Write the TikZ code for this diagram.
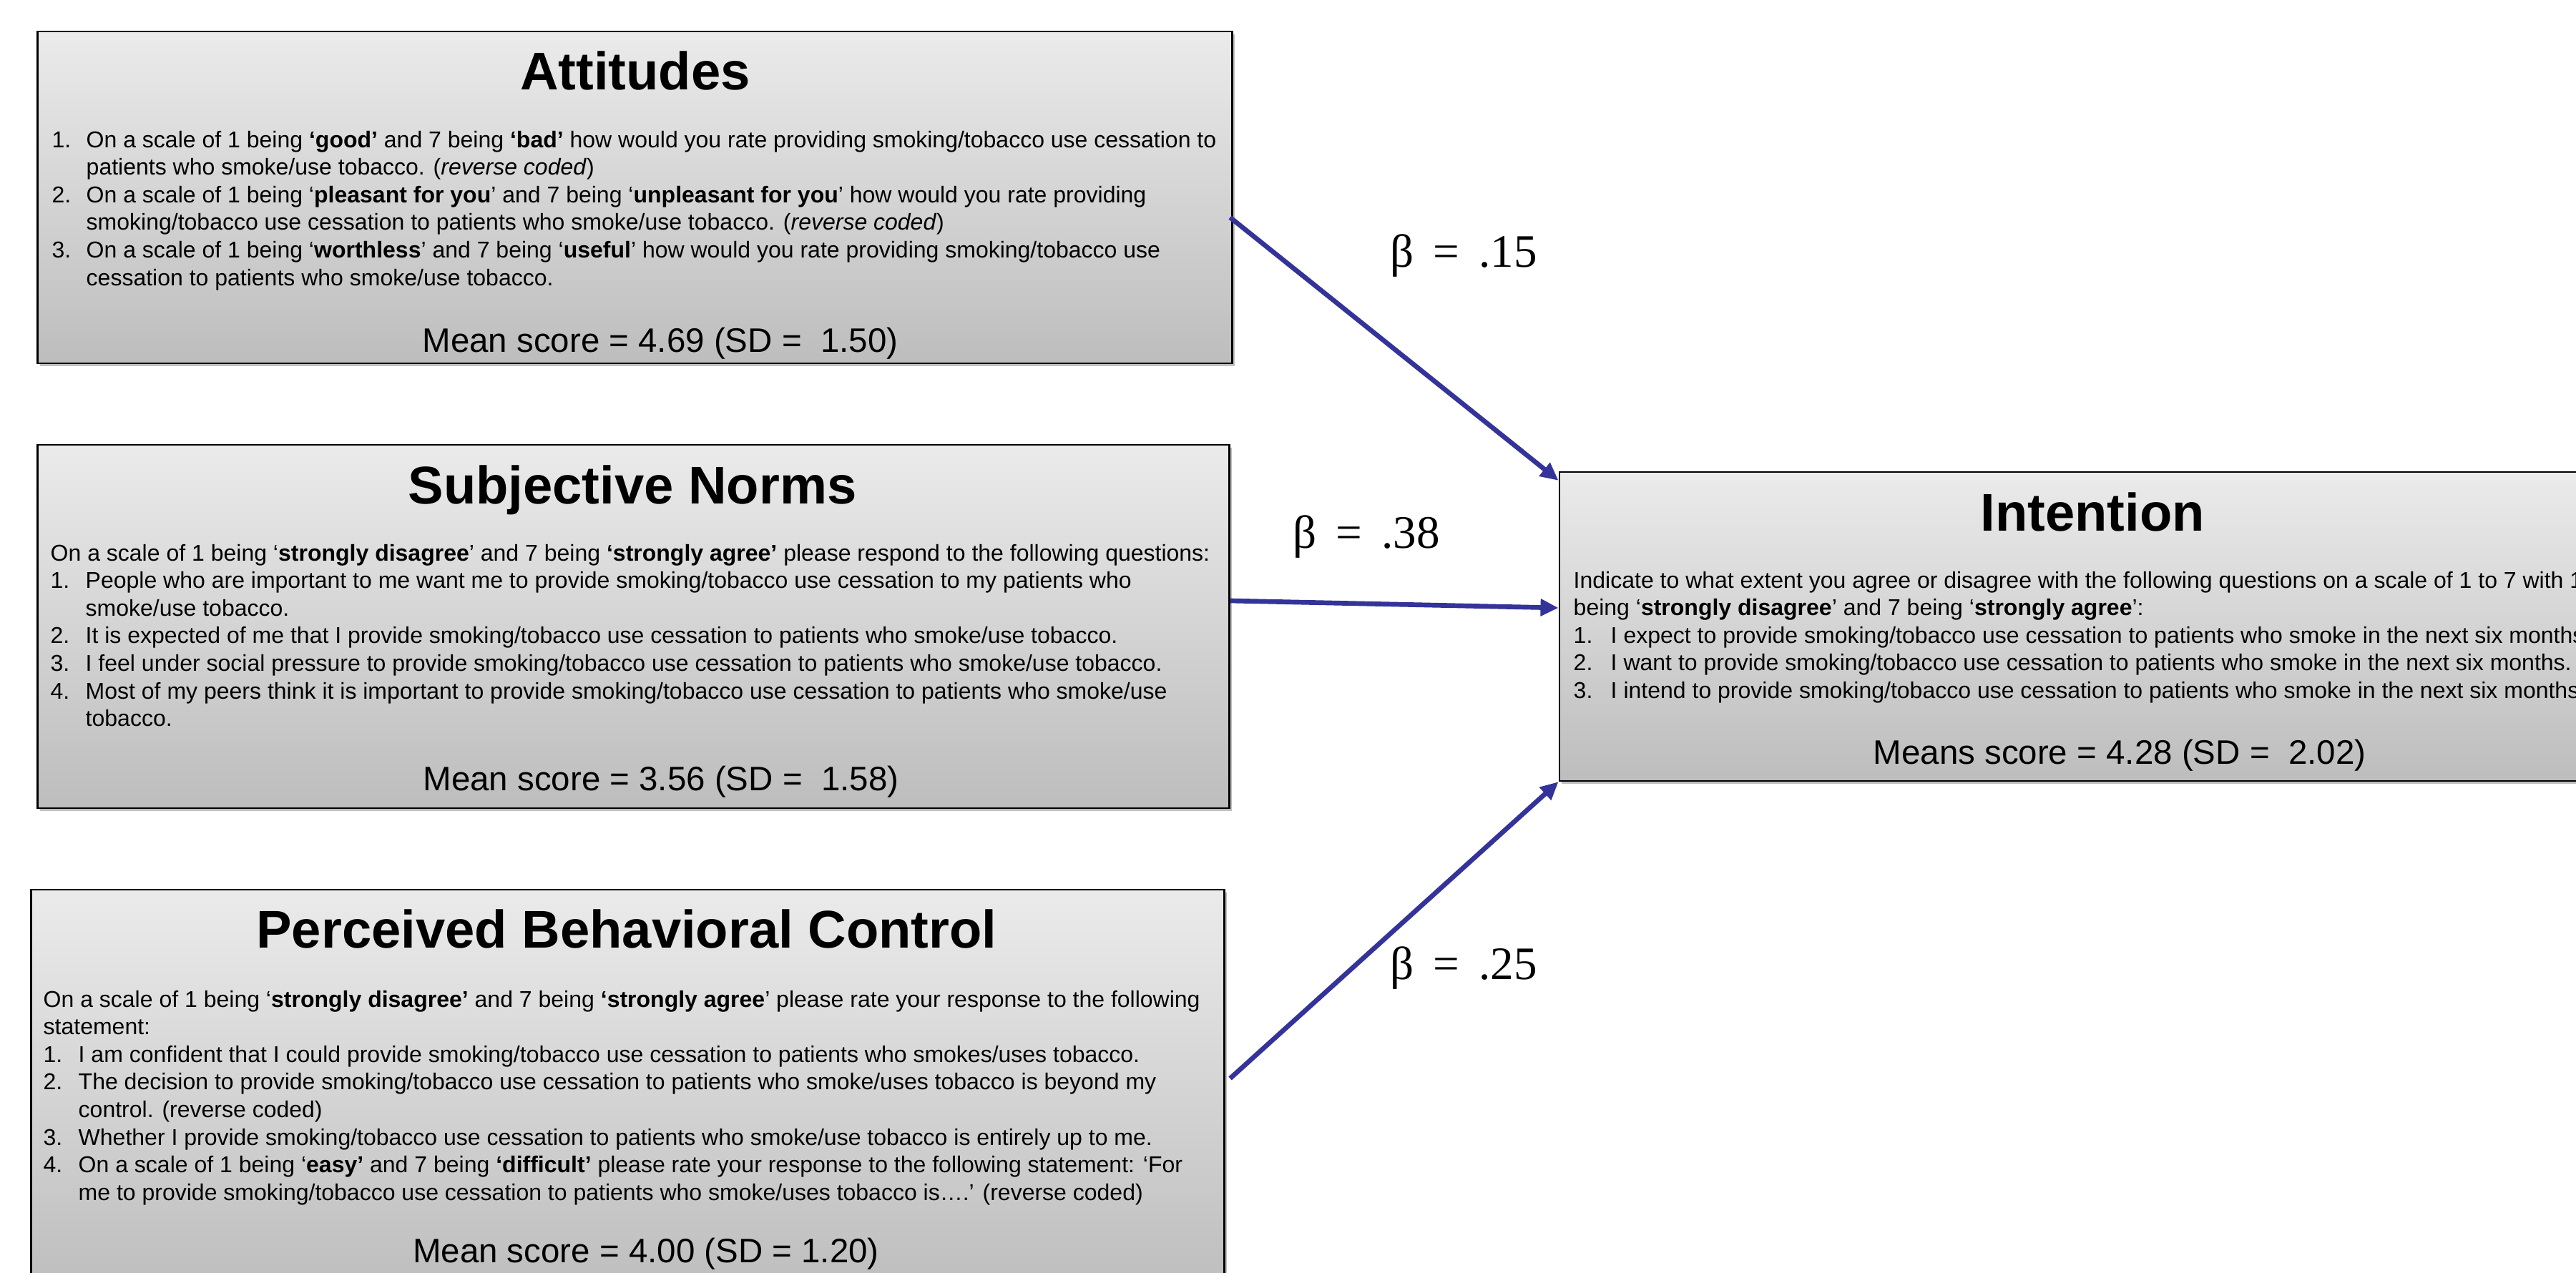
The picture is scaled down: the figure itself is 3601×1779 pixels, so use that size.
\documentclass[tikz,border=0pt]{standalone}
\usepackage{fontspec}
\setmainfont{Liberation Sans}
\newfontfamily\betafont{Liberation Serif}
\usetikzlibrary{arrows.meta,shadows,calc}
\definecolor{boxtop}{RGB}{235,235,235}
\definecolor{boxbot}{RGB}{189,189,189}
\definecolor{arrowblue}{RGB}{51,51,153}
\newlength\lblw
\newcommand\itm[2]{\makebox[\lblw][l]{#1}#2}
\newcommand\cnt{\hspace*{\lblw}}
\newcommand\bodyfont{\fontsize{9.1}{10.98}\selectfont}
\newcommand\bsp{\hspace{0.42em}}
\begin{document}
\begin{tikzpicture}[x=0.01cm,y=-0.01cm,
  box/.style={draw=black,line width=0.6pt,top color=boxtop,bottom color=boxbot,
    inner sep=0pt,drop shadow={shadow xshift=0.03cm,shadow yshift=-0.04cm,opacity=0.25,fill=black}},
  ttl/.style={anchor=base,inner sep=0pt,font=\fontsize{21.1}{25}\selectfont\bfseries},
  meanlbl/.style={anchor=base,inner sep=0pt,font=\fontsize{13.5}{16}\selectfont},
  bodytxt/.style={anchor=base west,inner sep=0pt,font=\bodyfont},
  beta/.style={anchor=base,inner sep=0pt,font=\betafont\fontsize{18.5}{20}\selectfont},
  arr/.style={draw=arrowblue,line width=1.9pt,-{Triangle[length=0.25cm,width=0.23cm]}}]
\useasboundingbox (0,0) rectangle (3601,1779);
\fill[white] (0,0) rectangle (3601,1779);
\clip (0,0) rectangle (3601,1779);

% boxes
\node[box,minimum width=16.69cm,minimum height=4.64cm] (att) at (887.5,276) {};
\node[box,minimum width=16.65cm,minimum height=5.08cm] (sn) at (885.5,876) {};
\node[box,minimum width=16.67cm,minimum height=5.66cm] (pbc) at (877.5,1527) {};
\node[box,minimum width=14.90cm,minimum height=4.32cm] (int) at (2925,876) {};

% Attitudes
\node[ttl] (atttitle) at (888,126) {Attitudes};
\node[bodytxt] (attbody) at (72,206) {\setlength\lblw{0.48cm}\parbox[t]{17cm}{\raggedright
\itm{1.}{On a scale of 1 being \textbf{‘good’} and 7 being \textbf{‘bad’} how would you rate providing smoking/tobacco use cessation to}\\
\cnt patients who smoke/use tobacco. (\textit{reverse coded})\\
\itm{2.}{On a scale of 1 being ‘\textbf{pleasant for you}’ and 7 being ‘\textbf{unpleasant for you}’ how would you rate providing}\\
\cnt smoking/tobacco use cessation to patients who smoke/use tobacco. (\textit{reverse coded})\\
\itm{3.}{On a scale of 1 being ‘\textbf{worthless}’ and 7 being ‘\textbf{useful}’ how would you rate providing smoking/tobacco use}\\
\cnt cessation to patients who smoke/use tobacco.}};
\node[meanlbl] (attmean) at (923,492) {Mean score = 4.69 (SD =\ \ 1.50)};

% Subjective norms
\node[ttl] (sntitle) at (884,704) {Subjective Norms};
\node[bodytxt] (snbody) at (70,784) {\setlength\lblw{0.49cm}\parbox[t]{17cm}{\raggedright
On a scale of 1 being ‘\textbf{strongly disagree}’ and 7 being \textbf{‘strongly agree’} please respond to the following questions:\\
\itm{1.}{People who are important to me want me to provide smoking/tobacco use cessation to my patients who}\\
\cnt smoke/use tobacco.\\
\itm{2.}{It is expected of me that I provide smoking/tobacco use cessation to patients who smoke/use tobacco.}\\
\itm{3.}{I feel under social pressure to provide smoking/tobacco use cessation to patients who smoke/use tobacco.}\\
\itm{4.}{Most of my peers think it is important to provide smoking/tobacco use cessation to patients who smoke/use}\\
\cnt tobacco.}};
\node[meanlbl] (snmean) at (924,1105) {Mean score = 3.56 (SD =\ \ 1.58)};

% Perceived behavioral control
\node[ttl] (pbctitle) at (876,1325) {Perceived Behavioral Control};
\node[bodytxt] (pbcbody) at (60,1408) {\setlength\lblw{0.49cm}\parbox[t]{17cm}{\raggedright
On a scale of 1 being ‘\textbf{strongly disagree’} and 7 being \textbf{‘strongly agree}’ please rate your response to the following\\
statement:\\
\itm{1.}{I am confident that I could provide smoking/tobacco use cessation to patients who smokes/uses tobacco.}\\
\itm{2.}{The decision to provide smoking/tobacco use cessation to patients who smoke/uses tobacco is beyond my}\\
\cnt control. (reverse coded)\\
\itm{3.}{Whether I provide smoking/tobacco use cessation to patients who smoke/use tobacco is entirely up to me.}\\
\itm{4.}{On a scale of 1 being ‘\textbf{easy’} and 7 being \textbf{‘difficult’} please rate your response to the following statement: ‘For}\\
\cnt me to provide smoking/tobacco use cessation to patients who smoke/uses tobacco is….’ (reverse coded)}};
\node[meanlbl] (pbcmean) at (903,1765) {Mean score = 4.00 (SD = 1.20)};

% Intention
\node[ttl] (inttitle) at (2925,742) {Intention};
\node[bodytxt] (intbody) at (2199,822) {\setlength\lblw{0.52cm}\parbox[t]{17cm}{\raggedright
Indicate to what extent you agree or disagree with the following questions on a scale of 1 to 7 with 1\\
being ‘\textbf{strongly disagree}’ and 7 being ‘\textbf{strongly agree}’:\\
\itm{1.}{I expect to provide smoking/tobacco use cessation to patients who smoke in the next six months.}\\
\itm{2.}{I want to provide smoking/tobacco use cessation to patients who smoke in the next six months.}\\
\itm{3.}{I intend to provide smoking/tobacco use cessation to patients who smoke in the next six months.}}};
\node[meanlbl] (intmean) at (2963,1068) {Means score = 4.28 (SD =\ \ 2.02)};

% connectors
\draw[arr] ([xshift=-0.04cm,yshift=-0.28cm]att.east) -- ([yshift=-0.13cm]int.north west);
\draw[arr] ([yshift=0.36cm]sn.east) -- ([yshift=0.26cm]int.west);
\draw[arr] ([xshift=0.07cm,yshift=-2.65cm]pbc.north east) -- (int.south west);

% labels
\node[beta] (b1) at (2046,373) {β\bsp=\bsp.15};
\node[beta] (b2) at (1910,766) {β\bsp=\bsp.38};
\node[beta] (b3) at (2046,1369) {β\bsp=\bsp.25};
\end{tikzpicture}
\end{document}
